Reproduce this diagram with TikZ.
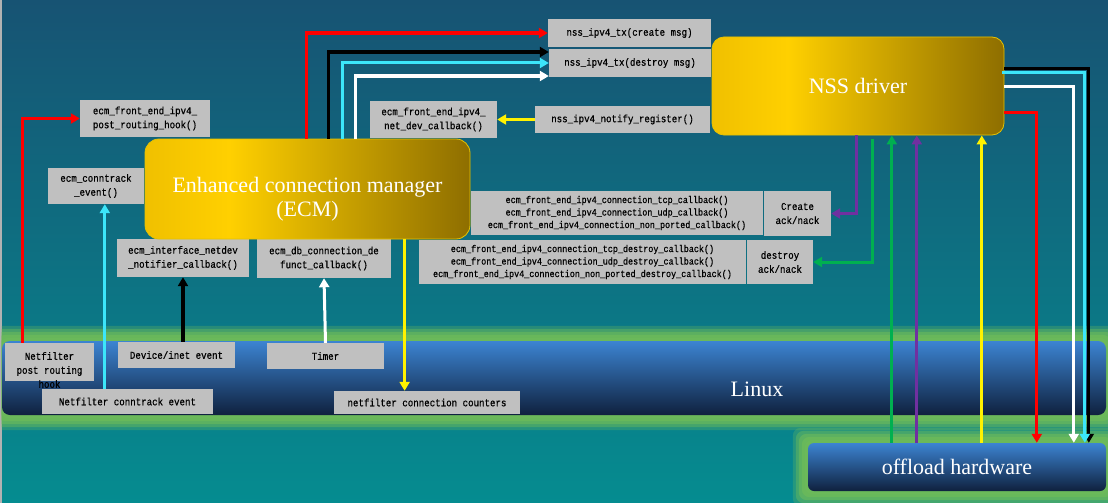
\documentclass[tikz,border=0pt]{standalone}
\usepackage{fontspec}
\setmonofont{Liberation Mono}[FakeStretch=0.87, FakeBold=0.6]
\newfontfamily\slidefont{Liberation Serif}
\usepackage{tikz}
\usetikzlibrary{calc, arrows.meta}

\definecolor{bgtop}{HTML}{175373}
\definecolor{bgbottom}{HTML}{058C90}
\definecolor{boxgray}{HTML}{C0C0C0}
\definecolor{glowgreen}{HTML}{6CBA5A}
\definecolor{bandtop}{HTML}{3C84D2}
\definecolor{bandbottom}{HTML}{0F213E}
\definecolor{goldleft}{HTML}{F0C000}
\definecolor{goldmid}{HTML}{FFD000}
\definecolor{goldright}{HTML}{8E6E00}
\definecolor{goldedge}{HTML}{E6C200}
\definecolor{ackpurple}{HTML}{7030A0}
\definecolor{ackgreen}{HTML}{00B050}
\definecolor{evcyan}{HTML}{3CE6FA}

\pgfdeclarehorizontalshading{goldshade}{100bp}{color(0bp)=(goldleft); color(25bp)=(goldleft); color(38bp)=(goldmid); color(75bp)=(goldright); color(100bp)=(goldright)}
\pgfdeclarelayer{glowlayer}
\pgfsetlayers{glowlayer,main}

\tikzset{
	gbox/.style={fill=boxgray, inner sep=0pt, align=center, text=black, font=\ttfamily\fontsize{10.5}{14}\selectfont},
	cblist/.style={gbox, font=\ttfamily\fontsize{9.7}{12.5}\selectfont},
	mgr/.style={rounded corners=14pt, shade, shading=goldshade, draw=goldedge, line width=0.8pt, inner sep=0pt},
	band/.style={rounded corners=8pt, top color=bandtop, bottom color=bandbottom, inner sep=0pt},
	slidetext/.style={text=white, align=center, font=\slidefont\fontsize{22}{24}\selectfont},
	flow/.style={line width=3pt, -{Triangle[length=9pt, width=10pt]}}
}

\begin{document}
\begin{tikzpicture}[x=1pt, y=-1pt]
	\useasboundingbox (0,0) rectangle (1108,503);
	\begin{pgfonlayer}{glowlayer}
		\shade[top color=bgtop, bottom color=bgbottom] (0,0) rectangle (1108,503);
		\fill[gray!60] (0,0) rectangle (1.5,503);
	\end{pgfonlayer}

	\node (linux) at (554,378) [band, minimum width=1104, minimum height=74] {};
	\node (offload) at (957,467) [band, rounded corners=6pt, minimum width=298, minimum height=48, slidetext] {offload hardware};
	\node (linuxlabel) at (757,389) [slidetext] {Linux};

	\begin{pgfonlayer}{glowlayer}
		\clip (1.5,0) rectangle (1108,503);
		\foreach \g/\o in {15/0.3, 12/0.45, 9/0.6, 6/0.8, 3/0.9} {
			\fill[glowgreen, opacity=\o, rounded corners=10pt] ($(linux.north west)+(-\g,-\g)$) rectangle ($(linux.south east)+(\g,\g)$);
			\fill[glowgreen, opacity=\o, rounded corners=8pt] ($(offload.north west)+(-\g,-\g)$) rectangle ($(offload.south east)+(\g,\g)$);
		}
	\end{pgfonlayer}

	\node (txcreate) at (629.5,33) [gbox, minimum width=163, minimum height=28] {nss\_ipv4\_tx(create msg)};
	\node (txdestroy) at (630,63) [gbox, minimum width=162, minimum height=28] {nss\_ipv4\_tx(destroy msg)};
	\node (notify) at (622.5,119.5) [gbox, minimum width=175, minimum height=27] {nss\_ipv4\_notify\_register()};
	\node (netdevcb) at (433.5,119.5) [gbox, minimum width=127, minimum height=37] {ecm\_front\_end\_ipv4\_\\net\_dev\_callback()};
	\node (postrt) at (145,118.5) [gbox, minimum width=130, minimum height=37] {ecm\_front\_end\_ipv4\_\\post\_routing\_hook()};
	\node (ecmct) at (96,186) [gbox, minimum width=96, minimum height=36] {ecm\_conntrack\\\_event()};
	\node (ifnetdev) at (183,258) [gbox, minimum width=132, minimum height=38] {ecm\_interface\_netdev\\\_notifier\_callback()};
	\node (ecmdb) at (324,258.5) [gbox, minimum width=134, minimum height=39] {ecm\_db\_connection\_de\\funct\_callback()};
	\node (createcb) at (617,213) [cblist, minimum width=292, minimum height=44] {ecm\_front\_end\_ipv4\_connection\_tcp\_callback()\\ecm\_front\_end\_ipv4\_connection\_udp\_callback()\\ecm\_front\_end\_ipv4\_connection\_non\_ported\_callback()};
	\node (createack) at (797.5,213.5) [gbox, minimum width=67, minimum height=45] {Create\\ack/nack};
	\node (destroycb) at (582.5,262) [cblist, minimum width=327, minimum height=44] {ecm\_front\_end\_ipv4\_connection\_tcp\_destroy\_callback()\\ecm\_front\_end\_ipv4\_connection\_udp\_destroy\_callback()\\ecm\_front\_end\_ipv4\_connection\_non\_ported\_destroy\_callback()};
	\node (destroyack) at (780,262) [gbox, minimum width=66, minimum height=44] {destroy\\ack/nack};

	\node (nfpost) at (49.5,362) [gbox, minimum width=89, minimum height=38] {};
	\node (nfposttext) at (49.5,370) [gbox, fill=none] {Netfilter\\post routing\\hook};
	\node (device) at (176.5,355) [gbox, minimum width=117, minimum height=26] {Device/inet event};
	\node (timer) at (325.5,356) [gbox, minimum width=117, minimum height=26] {Timer};
	\node (nfct) at (127.5,401.5) [gbox, minimum width=171, minimum height=25] {Netfilter conntrack event};
	\node (counters) at (427,402.5) [gbox, minimum width=186, minimum height=23] {netfilter connection counters};

	\node (ecm) at (307.5,189) [mgr, minimum width=325, minimum height=100] {};
	\node (ecmlabel) at (307.5,199) [slidetext] {Enhanced connection manager\\(ECM)};
	\node (nss) at (858,86) [mgr, rounded corners=12pt, minimum width=292, minimum height=98, slidetext] {NSS driver};

	\draw[flow, red, line width=3.5pt] ($(ecm.north west)+(162,0)$) |- (txcreate.west);
	\draw[flow, black, line width=3.5pt] ($(ecm.north west)+(184,0)$) |- ($(txdestroy.west)+(0,-11)$);
	\draw[flow, evcyan] ($(ecm.north west)+(198,0)$) |- (txdestroy.west);
	\draw[flow, white] ($(ecm.north west)+(211,0)$) |- ($(txdestroy.west)+(0,13)$);
	\draw[flow, yellow] (notify.west) -- (netdevcb.east);

	\draw[flow, red] ($(nfpost.north west)+(18,0)$) |- (postrt.west);
	\draw[flow, evcyan] ($(nfct.north west)+(63,0)$) coordinate (ctfoot) -- (ctfoot |- ecmct.south);
	\draw[flow, black, line width=3.5pt] (ifnetdev.south |- device.north) -- (ifnetdev.south);
	\draw[flow, white] (timer.north) -- (ecmdb.south);
	\draw[flow, yellow] ($(ecm.south west)+(260,0)$) coordinate (cntfoot) -- (cntfoot |- counters.north);

	\draw[flow, ackpurple] ($(nss.south west)+(145,0)$) |- (createack.east);
	\draw[flow, ackgreen] ($(nss.south west)+(161,4)$) |- (destroyack.east);
	\draw[flow, ackgreen] ($(offload.north west)+(84,0)$) coordinate (hwgreen) -- (hwgreen |- nss.south);
	\draw[flow, ackpurple] ($(offload.north west)+(109,0)$) coordinate (hwpurple) -- (hwpurple |- nss.south);
	\draw[flow, yellow] ($(offload.north west)+(174,0)$) coordinate (hwyellow) -- (hwyellow |- nss.south);

	\draw[flow, red] ($(nss.east)+(0,26)$) -| ($(offload.north west)+(229,0)$);
	\draw[flow, white] (nss.east) -| ($(offload.north west)+(266,0)$);
	\draw[flow, black] ($(nss.east)+(0,-17)$) -| ($(offload.north west)+(281,0)$);
	\draw[flow, evcyan] ($(nss.east)+(-2,-13)$) -| ($(offload.north west)+(277,0)$);
\end{tikzpicture}
\end{document}
